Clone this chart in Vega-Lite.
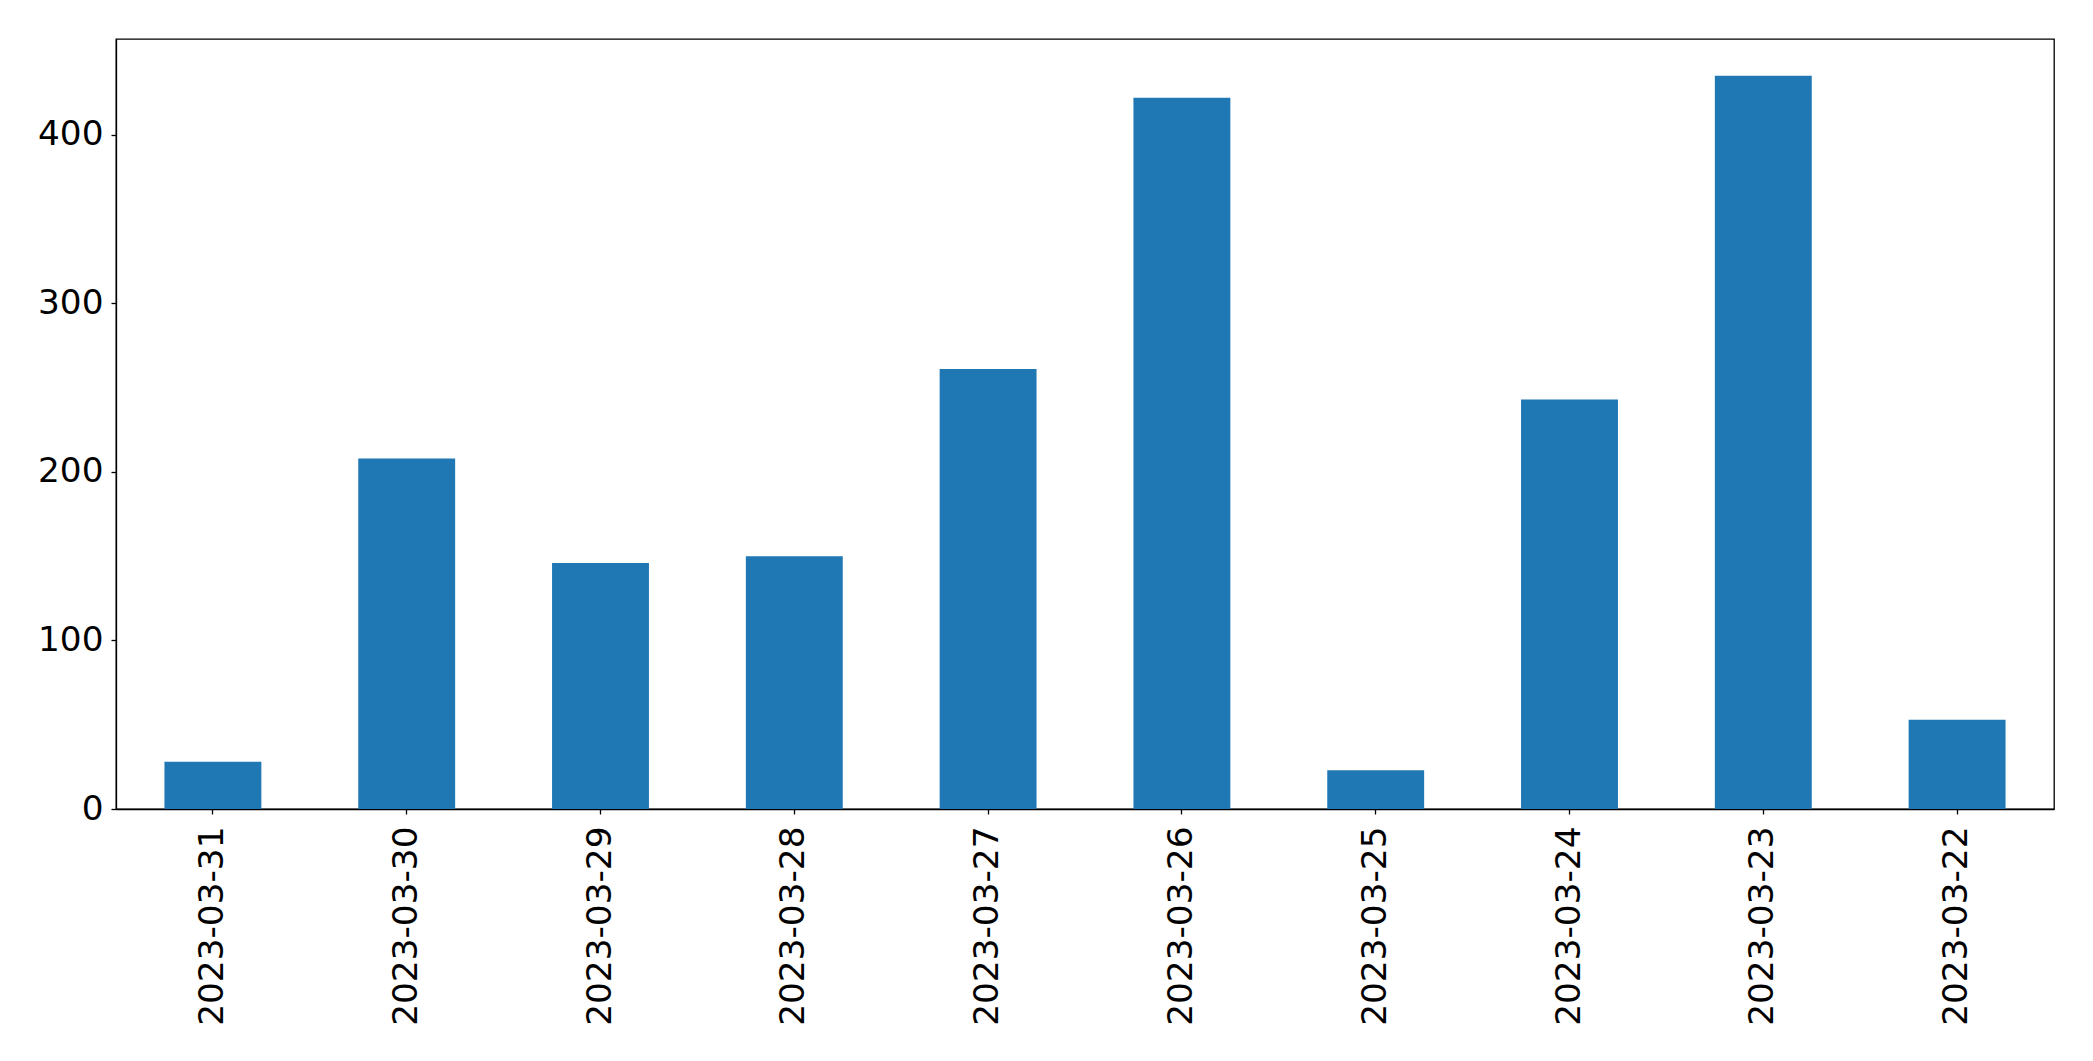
{
  "$schema": "https://vega.github.io/schema/vega-lite/v6.json",
  "autosize": {"type": "none"},
  "padding": {"left": 116, "top": 39, "right": 39, "bottom": 252},
  "width": 1938,
  "height": 770,
  "background": "white",
  "config": {
    "view": {"stroke": "black", "strokeWidth": 1.3},
    "font": "DejaVu Sans",
    "axis": {
      "domainColor": "black",
      "domainWidth": 1.3,
      "tickColor": "black",
      "tickWidth": 1.3,
      "tickSize": 5,
      "labelFont": "DejaVu Sans",
      "labelFontSize": 34.3,
      "labelColor": "black",
      "labelLimit": 0,
      "grid": false,
      "title": null
    }
  },
  "data": {
    "values": [
      {"date": "2023-03-31", "count": 28},
      {"date": "2023-03-30", "count": 208},
      {"date": "2023-03-29", "count": 146},
      {"date": "2023-03-28", "count": 150},
      {"date": "2023-03-27", "count": 261},
      {"date": "2023-03-26", "count": 422},
      {"date": "2023-03-25", "count": 23},
      {"date": "2023-03-24", "count": 243},
      {"date": "2023-03-23", "count": 435},
      {"date": "2023-03-22", "count": 53}
    ]
  },
  "mark": {"type": "bar", "color": "#1f77b4"},
  "encoding": {
    "x": {
      "field": "date",
      "type": "nominal",
      "sort": null,
      "scale": {"paddingInner": 0.5, "paddingOuter": 0.25},
      "axis": {"labelAngle": -90, "labelAlign": "right", "labelBaseline": "middle", "labelPadding": 12, "labelLimit": 0, "title": null}
    },
    "y": {
      "field": "count",
      "type": "quantitative",
      "scale": {"domain": [0, 456.8], "nice": false, "zero": true},
      "axis": {"values": [0, 100, 200, 300, 400], "labelPadding": 8, "title": null}
    }
  }
}
